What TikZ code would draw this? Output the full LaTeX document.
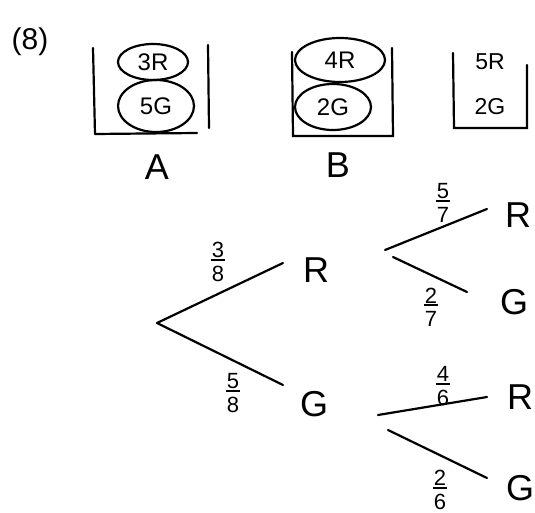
\documentclass[tikz,border=0pt]{standalone}
\usepackage{fontspec}
\setmainfont{Liberation Sans}
\usetikzlibrary{shapes.geometric}
\newcommand{\myfr}[2]{\shortstack{#1\\[-2pt]\rule{14pt}{2pt}\\[2pt]#2}}
\begin{document}
\begin{tikzpicture}[x=1pt,y=-1pt,
  ink/.style={line width=2.2pt,line cap=round},
  oval/.style={draw,ink,ellipse,inner sep=0pt,font=\fontsize{24}{24}\selectfont},
  big/.style={font=\fontsize{36}{36}\selectfont,inner sep=0pt},
  frac/.style={font=\fontsize{22}{22}\selectfont,inner sep=0pt},
  small/.style={font=\fontsize{23}{23}\selectfont,inner sep=0pt}]
\useasboundingbox (0,0) rectangle (535,513);
% question number
\node[big,font=\fontsize{30}{30}\selectfont] (qn) at (30,42) {(8)};
% box A
\coordinate (a1) at (93,48); \coordinate (a2) at (95,134);
\coordinate (a3) at (197,133); \coordinate (a4) at (208,45); \coordinate (a5) at (209,128);
\draw[ink] (a1) -- (a2);
\draw[ink] (a2) -- (a3);
\draw[ink] (a4) -- (a5);
\node[oval,minimum width=70pt,minimum height=36pt] (a3r) at (153,62) {3R};
\node[oval,minimum width=76pt,minimum height=52pt] (a5g) at (156,106) {5G};
\node[big] (la) at (157,167) {A};
% box B
\coordinate (b1) at (292,52); \coordinate (b2) at (293,136);
\coordinate (b3) at (393,136); \coordinate (b4) at (392,48);
\draw[ink] (b1) -- (b2) -- (b3) -- (b4);
\node[oval,minimum width=90pt,minimum height=44pt] (b4r) at (340,60) {4R};
\node[oval,minimum width=76pt,minimum height=46pt] (b2g) at (333,107) {2G};
\node[big] (lb) at (338,165) {B};
% box C
\coordinate (c1) at (453,53); \coordinate (c2) at (454,128);
\coordinate (c3) at (527,128); \coordinate (c4) at (527,65);
\draw[ink] (c1) -- (c2) -- (c3) -- (c4);
\node[small] (c5r) at (490,62) {5R};
\node[small] (c2g) at (490,107) {2G};
% tree level 1
\coordinate (root) at (157,323);
\coordinate (e1) at (283,263);
\coordinate (e2) at (283,385);
\draw[ink] (root) -- (e1);
\draw[ink] (root) -- (e2);
\node[big] (r1) at (316,270) {R};
\node[big] (g1) at (314,404) {G};
\node[frac] (f38) at (218,262) {\myfr{3}{8}};
\node[frac] (f58) at (233,393) {\myfr{5}{8}};
% tree level 2 (after R)
\coordinate (s1) at (385,250); \coordinate (t1) at (487,209);
\coordinate (s2) at (393,257); \coordinate (t2) at (467,292);
\draw[ink] (s1) -- (t1);
\draw[ink] (s2) -- (t2);
\node[big] (r2) at (518,215) {R};
\node[big] (g2) at (514,302) {G};
\node[frac] (f57) at (443,203) {\myfr{5}{7}};
\node[frac] (f27) at (431,307) {\myfr{2}{7}};
% tree level 2 (after G)
\coordinate (s3) at (378,415); \coordinate (t3) at (487,397);
\coordinate (s4) at (388,430); \coordinate (t4) at (487,478);
\draw[ink] (s3) -- (t3);
\draw[ink] (s4) -- (t4);
\node[big] (r3) at (520,397) {R};
\node[big] (g3) at (520,488) {G};
\node[frac] (f46) at (443,386) {\myfr{4}{6}};
\node[frac] (f26) at (440,490) {\myfr{2}{6}};
\end{tikzpicture}
\end{document}
